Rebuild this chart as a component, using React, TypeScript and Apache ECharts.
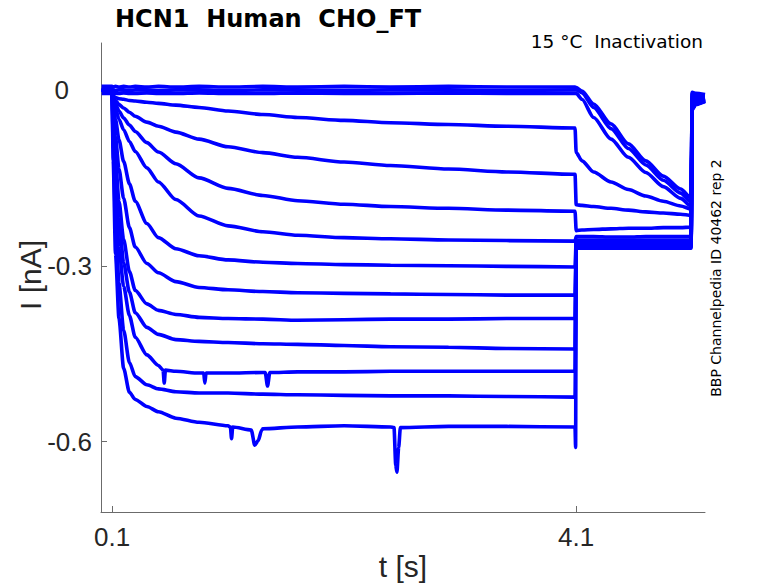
import React, { useEffect, useRef } from "react";
import * as echarts from "echarts";

// ---- axis ticks ----
const X_TICKS = [0.1, 4.1];
const Y_TICKS = [-0.6, -0.3, 0];

// ---- time bases (s) ----
const T_PRE = [0.01, 0.1, 0.11, 0.13, 0.16, 0.2, 0.25, 0.3, 0.4, 0.5, 0.65, 0.85, 1.1, 1.4, 1.7, 2.1, 2.5, 3.0, 3.5, 4.09];
const T_TAIL = [4.1, 4.15, 4.25, 4.4, 4.55, 4.7, 4.85, 5.0, 5.09];
const T_END = [5.1, 5.13, 5.21];

// ---- currents (nA) ----
const Z1_PRE = [0.006, 0.006, 0.005, 0.006, 0.005, 0.006, 0.005, 0.006, 0.005, 0.006, 0.005, 0.006, 0.005, 0.006, 0.005, 0.006, 0.005, 0.006, 0.005, 0.005];
const Z2_PRE = [0.0, 0.0, 0.0, -0.001, 0.0, 0.0, -0.001, 0.0, 0.0, -0.001, 0.0, 0.0, -0.001, 0.0, 0.0, -0.001, 0.0, 0.0, -0.001, 0.0];
const Z3_PRE = [-0.006, -0.006, -0.005, -0.006, -0.006, -0.005, -0.006, -0.006, -0.005, -0.006, -0.006, -0.005, -0.006, -0.006, -0.005, -0.006, -0.006, -0.005, -0.006, -0.006];
const T2_PRE = [0, -0.002, -0.010, -0.013, -0.015, -0.016, -0.018, -0.019, -0.021, -0.023, -0.026, -0.030, -0.036, -0.042, -0.047, -0.052, -0.056, -0.059, -0.062, -0.065];
const T3_PRE = [0, -0.002, -0.010, -0.018, -0.025, -0.031, -0.038, -0.045, -0.055, -0.062, -0.072, -0.084, -0.097, -0.107, -0.115, -0.123, -0.129, -0.135, -0.140, -0.144];
const T4_PRE = [0, -0.003, -0.012, -0.024, -0.036, -0.048, -0.060, -0.071, -0.090, -0.106, -0.126, -0.150, -0.168, -0.180, -0.189, -0.195, -0.199, -0.202, -0.205, -0.207];
const T5_PRE = [0, -0.003, -0.015, -0.032, -0.050, -0.068, -0.088, -0.105, -0.133, -0.157, -0.187, -0.215, -0.232, -0.242, -0.248, -0.252, -0.254, -0.256, -0.257, -0.258];
const T6_PRE = [0, -0.004, -0.022, -0.050, -0.085, -0.122, -0.160, -0.190, -0.228, -0.252, -0.271, -0.283, -0.290, -0.294, -0.296, -0.298, -0.299, -0.300, -0.301, -0.302];
const T7_PRE = [0, -0.005, -0.035, -0.080, -0.135, -0.185, -0.235, -0.268, -0.296, -0.312, -0.327, -0.337, -0.341, -0.344, -0.346, -0.347, -0.348, -0.349, -0.350, -0.350];
const T8_PRE = [0, -0.005, -0.050, -0.120, -0.190, -0.255, -0.310, -0.342, -0.365, -0.376, -0.383, -0.388, -0.390, -0.391, -0.393, -0.392, -0.391, -0.391, -0.390, -0.390];
const T9_PRE = [0, -0.005, -0.060, -0.140, -0.220, -0.295, -0.345, -0.380, -0.405, -0.417, -0.426, -0.429, -0.431, -0.433, -0.434, -0.436, -0.438, -0.439, -0.441, -0.442];
const T10_PRE = [0, -0.006, -0.080, -0.170, -0.270, -0.335, -0.385, -0.422, -0.452, -0.470, -0.480, -0.483, -0.483, -0.482, -0.481, -0.481, -0.480, -0.480, -0.480, -0.480];
const T11_PRE = [0, -0.006, -0.100, -0.220, -0.330, -0.410, -0.465, -0.489, -0.503, -0.510, -0.515, -0.517, -0.517, -0.519, -0.520, -0.521, -0.522, -0.522, -0.523, -0.524];
const T12_PRE = [0, -0.006, -0.120, -0.280, -0.390, -0.475, -0.516, -0.528, -0.540, -0.549, -0.560, -0.567, -0.573, -0.578, -0.575, -0.573, -0.575, -0.574, -0.574, -0.575];

const Z1_TAIL = [0.004, -0.002, -0.024, -0.058, -0.092, -0.121, -0.147, -0.169, -0.184];
const Z2_TAIL = [0.0, -0.005, -0.030, -0.066, -0.100, -0.128, -0.154, -0.176, -0.191];
const Z3_TAIL = [-0.006, -0.016, -0.047, -0.084, -0.115, -0.141, -0.165, -0.185, -0.198];
const T2_TAIL = [-0.107, -0.121, -0.140, -0.157, -0.170, -0.181, -0.190, -0.198, -0.203];
const T3_TAIL = [-0.196, -0.197, -0.199, -0.202, -0.205, -0.208, -0.210, -0.212, -0.214];
const T4_TAIL = [-0.240, -0.239, -0.238, -0.237, -0.236, -0.236, -0.235, -0.235, -0.234];
const T5_TAIL = [-0.250, -0.250, -0.250, -0.251, -0.251, -0.250, -0.250, -0.250, -0.250];
const T6_TAIL = [-0.256, -0.256, -0.256, -0.256, -0.256, -0.256, -0.256, -0.256, -0.256];
const T7_TAIL = [-0.262, -0.262, -0.262, -0.262, -0.262, -0.262, -0.262, -0.262, -0.262];
const T8_TAIL = [-0.266, -0.266, -0.266, -0.266, -0.266, -0.266, -0.266, -0.266, -0.266];
const T9_TAIL = [-0.260, -0.260, -0.260, -0.260, -0.260, -0.260, -0.260, -0.260, -0.260];
const T10_TAIL = [-0.268, -0.268, -0.268, -0.268, -0.268, -0.268, -0.268, -0.268, -0.268];
const T11_TAIL = [-0.264, -0.264, -0.264, -0.264, -0.264, -0.264, -0.264, -0.264, -0.264];
const T12_TAIL = [-0.270, -0.270, -0.270, -0.270, -0.270, -0.270, -0.270, -0.270, -0.270];

const Z1_END = [-0.004, -0.006, -0.008];
const Z2_END = [-0.006, -0.008, -0.009];
const Z3_END = [-0.008, -0.010, -0.010];
const T2_END = [-0.012, -0.012, -0.012];
const T3_END = [-0.016, -0.014, -0.013];
const T4_END = [-0.020, -0.016, -0.014];
const T5_END = [-0.024, -0.018, -0.015];
const T6_END = [-0.026, -0.020, -0.016];
const T7_END = [-0.028, -0.021, -0.017];
const T8_END = [-0.030, -0.022, -0.018];
const T9_END = [-0.030, -0.022, -0.018];
const T10_END = [-0.032, -0.024, -0.019];
const T11_END = [-0.032, -0.024, -0.019];
const T12_END = [-0.034, -0.025, -0.020];

// visible dips / spikes: [t, I]
const T10_DIPS = [[0.54, -0.478], [0.55, -0.500], [0.56, -0.478], [0.89, -0.483], [0.9, -0.500], [0.91, -0.483], [1.42, -0.482], [1.44, -0.505], [1.46, -0.482]];
const T12_DIPS = [[1.12, -0.575], [1.13, -0.595], [1.14, -0.575], [1.3, -0.58], [1.33, -0.606], [1.36, -0.598], [1.39, -0.58], [2.53, -0.576], [2.545, -0.64], [2.555, -0.652], [2.57, -0.61], [2.585, -0.576], [4.095, -0.61]];
const NO_DIPS: number[][] = [];

const TRACES = [
  [Z1_PRE, Z1_TAIL, Z1_END, NO_DIPS],
  [Z2_PRE, Z2_TAIL, Z2_END, NO_DIPS],
  [Z3_PRE, Z3_TAIL, Z3_END, NO_DIPS],
  [T2_PRE, T2_TAIL, T2_END, NO_DIPS],
  [T3_PRE, T3_TAIL, T3_END, NO_DIPS],
  [T4_PRE, T4_TAIL, T4_END, NO_DIPS],
  [T5_PRE, T5_TAIL, T5_END, NO_DIPS],
  [T6_PRE, T6_TAIL, T6_END, NO_DIPS],
  [T7_PRE, T7_TAIL, T7_END, NO_DIPS],
  [T8_PRE, T8_TAIL, T8_END, NO_DIPS],
  [T9_PRE, T9_TAIL, T9_END, NO_DIPS],
  [T10_PRE, T10_TAIL, T10_END, T10_DIPS],
  [T11_PRE, T11_TAIL, T11_END, NO_DIPS],
  [T12_PRE, T12_TAIL, T12_END, T12_DIPS],
] as any[];

function buildPoints(pre: number[], tail: number[], end: number[], dips: number[][]) {
  const pts: number[][] = [];
  T_PRE.forEach((t, i) => pts.push([t, pre[i]]));
  T_TAIL.forEach((t, i) => pts.push([t, tail[i]]));
  T_END.forEach((t, i) => pts.push([t, end[i]]));
  dips.forEach((d) => pts.push([d[0], d[1]]));
  pts.sort((a, b) => a[0] - b[0]);
  return pts;
}

const AXIS_COLOR = "#6b6b6b";
const TEXT_COLOR = "#262626";
const TICK_FONT = "Liberation Sans";

export default function App() {
  const ref = useRef<HTMLDivElement>(null);
  useEffect(() => {
    if (!ref.current) return;
    const chart = echarts.init(ref.current, null, { renderer: "svg" });
    const series = TRACES.map((tr: any, i: number) => ({
      type: "line",
      name: "trace" + i,
      data: buildPoints(tr[0], tr[1], tr[2], tr[3]),
      showSymbol: false,
      symbol: "none",
      smooth: 0.25,
      smoothMonotone: "x",
      lineStyle: { color: "#0000ff", width: 3.6 },
      itemStyle: { color: "#0000ff" },
      silent: true,
      z: 2,
    }));
    chart.setOption({
      animation: false,
      backgroundColor: "#ffffff",
      grid: { left: 101, top: 43, right: 73, bottom: 71, containLabel: false },
      xAxis: {
        type: "value",
        min: 0.005,
        max: 5.21,
        axisLine: { show: true, onZero: false, lineStyle: { color: AXIS_COLOR, width: 1 } },
        axisTick: { show: true, inside: true, length: 6, lineStyle: { color: AXIS_COLOR }, customValues: X_TICKS },
        axisLabel: {
          customValues: X_TICKS,
          formatter: (v: number) => v.toFixed(1),
          color: TEXT_COLOR,
          fontSize: 26,
          fontFamily: TICK_FONT,
          margin: 12,
        },
        splitLine: { show: false },
      },
      yAxis: {
        type: "value",
        min: -0.72,
        max: 0.08,
        axisLine: { show: true, onZero: false, lineStyle: { color: AXIS_COLOR, width: 1 } },
        axisTick: { show: true, inside: true, length: 6, lineStyle: { color: AXIS_COLOR }, customValues: Y_TICKS },
        axisLabel: {
          customValues: Y_TICKS,
          formatter: (v: number) => (Math.abs(v) < 1e-9 ? "{z|0}" : v.toFixed(1)),
          color: TEXT_COLOR,
          fontSize: 26,
          fontFamily: TICK_FONT,
          margin: 9,
          rich: {
            z: { padding: [0, 23, 0, 0], fontSize: 26, fontFamily: TICK_FONT, color: TEXT_COLOR },
          },
        },
        splitLine: { show: false },
      },
      graphic: [
        {
          type: "text",
          x: 115,
          y: 19,
          style: {
            text: "HCN1  Human  CHO_FT",
            font: 'bold 24px "DejaVu Sans"',
            fill: "#000000",
            align: "left",
            verticalAlign: "middle",
            textAlign: "left",
            textVerticalAlign: "middle",
          },
        },
        {
          type: "text",
          x: 703,
          y: 41,
          style: {
            text: "15 °C  Inactivation",
            font: '18.5px "DejaVu Sans"',
            fill: "#000000",
            align: "right",
            verticalAlign: "middle",
            textAlign: "right",
            textVerticalAlign: "middle",
          },
        },
        {
          type: "text",
          x: 716,
          y: 278,
          rotation: Math.PI / 2,
          style: {
            text: "BBP Channelpedia ID 40462 rep 2",
            font: '14px "DejaVu Sans"',
            fill: "#000000",
            align: "center",
            verticalAlign: "middle",
            textAlign: "center",
            textVerticalAlign: "middle",
          },
        },
        {
          type: "text",
          x: 30,
          y: 275,
          rotation: Math.PI / 2,
          style: {
            text: "I [nA]",
            font: '30px "Liberation Sans"',
            fill: TEXT_COLOR,
            align: "center",
            verticalAlign: "middle",
            textAlign: "center",
            textVerticalAlign: "middle",
          },
        },
        {
          type: "text",
          x: 403,
          y: 566,
          style: {
            text: "t [s]",
            font: '30px "Liberation Sans"',
            fill: TEXT_COLOR,
            align: "center",
            verticalAlign: "middle",
            textAlign: "center",
            textVerticalAlign: "middle",
          },
        },
      ],
      series,
    });
    return () => chart.dispose();
  }, []);
  return (
    <div
      ref={ref}
      style={{ position: "fixed", left: 0, top: 0, width: 778, height: 583, background: "#ffffff" }}
    />
  );
}
